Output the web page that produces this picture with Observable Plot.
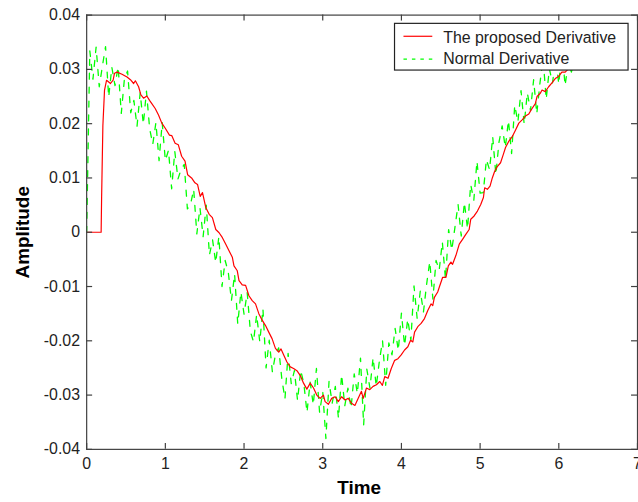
<!DOCTYPE html>
<html><head><meta charset="utf-8">
<script src="https://cdn.jsdelivr.net/npm/d3@7"></script>
<script src="https://cdn.jsdelivr.net/npm/@observablehq/plot@0.6"></script>
<style>
html,body{margin:0;padding:0;overflow:hidden;background:#fff;}
#chart{width:638px;height:502px;overflow:hidden;position:relative;}
</style></head><body><div id="chart"></div>
<script>
const xTicks = [0,1,2,3,4,5,6,7];
const xTickLabels = ["0","1","2","3","4","5","6","7"];
const yTicks = [-0.04,-0.03,-0.02,-0.01,0,0.01,0.02,0.03,0.04];
const yTickLabels = ["-0.04","-0.03","-0.02","-0.01","0","0.01","0.02","0.03","0.04"];
const xLabel = "Time";
const yLabel = "Amplitude";
const legendLabels = ["The proposed Derivative","Normal Derivative"];

const redT = [0,0.184,0.19,0.206,0.227,0.253,0.303,0.336,0.354,0.386,0.449,0.513,0.556,0.597,0.619,0.660,0.689,0.723,0.765,0.799,0.828,0.871,0.913,0.955,0.997,
1.052,1.081,1.124,1.165,1.207,1.250,1.283,1.333,1.376,
1.409,1.443,1.472,1.515,1.557,1.598,1.641,1.683,1.725,1.768,1.809,1.851,1.872,1.914,1.936,1.977,
2.020,2.062,2.104,2.146,2.188,2.230,2.273,2.314,2.356,2.399,2.441,2.470,2.504,2.545,2.588,2.630,2.672,2.715,2.756,2.798,
2.841,2.883,2.924,2.967,3.009,3.030,3.072,3.114,3.157,3.198,3.240,3.283,3.324,3.366,3.409,3.451,3.492,3.514,3.556,3.598,3.640,3.682,3.725,3.758,3.788,3.830,3.871,3.914,3.956,
3.997,4.040,4.082,4.116,4.145,4.167,4.208,4.250,4.293,4.335,4.376,4.398,4.419,4.461,4.482,4.524,4.566,4.596,4.629,4.650,4.692,4.735,4.777,4.818,4.861,4.881,4.924,4.966,5.008,5.042,5.058,5.092,5.126,5.155,5.184,5.218,
5.260,5.294,5.323,5.366,5.408,5.449,5.492,5.534,5.576,5.619,5.660,5.702,5.723,5.765,5.787,5.828,5.871,5.913,5.955,5.997,6.039,6.081,6.128,6.178,6.229];
const redV = [0,0,0.0064,0.0196,0.0262,0.0280,0.0274,0.0280,0.0293,0.0295,0.0291,0.0286,0.0281,0.0274,0.0279,0.0268,0.0253,0.0247,0.0251,0.0243,0.0237,0.0228,0.0216,0.0201,0.0192,
0.0179,0.0178,0.0164,0.0161,0.0140,0.0131,0.0106,0.0100,0.0091,
0.0088,0.0066,0.0073,0.0045,0.0033,0.0027,0.0005,-0.0001,-0.0010,-0.0022,-0.0034,-0.0046,-0.0062,-0.0071,-0.0089,-0.0097,
-0.0098,-0.0117,-0.0126,-0.0132,-0.0150,-0.0162,-0.0172,-0.0184,-0.0196,-0.0214,-0.0221,-0.0215,-0.0226,-0.0239,-0.0248,-0.0251,-0.0255,-0.0264,-0.0278,-0.0289,
-0.0278,-0.0287,-0.0300,-0.0306,-0.0300,-0.0312,-0.0317,-0.0306,-0.0303,-0.0312,-0.0303,-0.0309,-0.0306,-0.0315,-0.0319,-0.0306,-0.0293,-0.0306,-0.0287,-0.0290,-0.0284,-0.0281,-0.0275,-0.0282,-0.0266,-0.0269,-0.0251,-0.0236,-0.0233,
-0.0226,-0.0217,-0.0211,-0.0199,-0.0202,-0.0184,-0.0174,-0.0168,-0.0159,-0.0144,-0.0132,-0.0135,-0.0120,-0.0110,-0.0101,-0.0083,-0.0083,-0.0062,-0.0055,-0.0059,-0.0043,-0.0022,-0.0013,-0.0004,0.0005,0.0024,0.0030,0.0039,0.0051,0.0064,0.0082,0.0079,0.0085,0.0100,0.0112,0.0121,
0.0128,0.0143,0.0156,0.0168,0.0176,0.0188,0.0201,0.0207,0.0214,0.0218,0.0228,0.0237,0.0250,0.0256,0.0262,0.0259,0.0268,0.0275,0.0283,0.0287,0.0295,0.0295,0.0302,0.0306,0.0309];

const greenT = [0,0.04,0.08,0.12,0.16,0.20,0.24,0.28,0.32,0.36,
0.40,0.44,0.48,0.52,0.56,0.60,0.64,0.68,0.72,0.76,
0.80,0.84,0.88,0.92,0.96,1.00,1.04,1.08,1.12,1.16,
1.20,1.24,1.28,1.32,1.36,1.40,1.44,1.48,1.52,1.56,
1.60,1.64,1.68,1.72,1.76,1.80,1.84,1.88,1.92,1.96,
2.00,2.04,2.08,2.12,2.16,2.20,2.24,2.28,2.32,2.36,
2.40,2.44,2.48,2.52,2.56,2.60,2.64,2.68,2.72,2.76,
2.80,2.84,2.88,2.92,2.96,3.00,3.04,3.08,3.12,3.16,
3.20,3.24,3.28,3.32,3.36,3.40,3.44,3.48,3.52,3.56,
3.60,3.64,3.68,3.72,3.76,3.80,3.84,3.88,3.92,3.96,
4.00,4.04,4.08,4.12,4.16,4.20,4.24,4.28,4.32,4.36,
4.40,4.44,4.48,4.52,4.56,4.60,4.64,4.68,4.72,4.76,
4.80,4.84,4.88,4.92,4.96,5.00,5.04,5.08,5.12,5.16,
5.20,5.24,5.28,5.32,5.36,5.40,5.44,5.48,5.52,5.56,
5.60,5.64,5.68,5.72,5.76,5.80,5.84,5.88,5.92,5.96,
6.00,6.04,6.08,6.12,6.16,6.20];
const greenV = [0,0.0334,0.0282,0.0341,0.0268,0.0306,0.0342,0.0249,0.0304,0.0270,
0.0305,0.0219,0.0283,0.0297,0.0220,0.0243,0.0195,0.0257,0.0199,0.0260,
0.0191,0.0162,0.0202,0.0132,0.0202,0.0132,0.0151,0.0080,0.0149,0.0098,
0.0116,0.0125,0.0043,0.0051,0.0079,-0.0003,0.0045,-0.0008,0.0050,-0.0042,
-0.0014,-0.0056,-0.0008,-0.0100,-0.0052,-0.0074,-0.0126,-0.0077,-0.0169,-0.0110,
-0.0151,-0.0111,-0.0182,-0.0202,-0.0152,-0.0202,-0.0141,-0.0250,-0.0199,-0.0257,
-0.0225,-0.0213,-0.0270,-0.0307,-0.0223,-0.0279,-0.0255,-0.0310,-0.0254,-0.0279,
-0.0332,-0.0276,-0.0318,-0.0251,-0.0332,-0.0294,-0.0380,-0.0275,-0.0315,-0.0284,
-0.0343,-0.0262,-0.0320,-0.0287,-0.0324,-0.0261,-0.0297,-0.0232,-0.0355,-0.0252,
-0.0287,-0.0231,-0.0284,-0.0237,-0.0200,-0.0282,-0.0204,-0.0226,-0.0177,-0.0218,
-0.0149,-0.0209,-0.0160,-0.0199,-0.0099,-0.0159,-0.0108,-0.0147,-0.0096,-0.0054,
-0.0123,-0.0052,-0.0070,-0.0018,-0.0087,0.0005,-0.0033,0.0009,0.0051,-0.0007,
0.0055,0.0006,0.0088,0.0059,0.0131,0.0072,0.0073,0.0134,0.0115,0.0176,
0.0106,0.0166,0.0196,0.0156,0.0206,0.0145,0.0234,0.0203,0.0261,0.0199,
0.0257,0.0224,0.0281,0.0218,0.0274,0.0320,0.0245,0.0301,0.0275,0.0320,
0.0273,0.0337,0.0270,0.0313,0.0295,0.0320];

const red = redT.map((t,i)=>({t, v: redV[i]}));
const green = greenT.map((t,i)=>({t, v: greenV[i]}));

const W = 642, H = 502, mL = 86.7, mR = 1, mT = 14.7, mB = 50.3;
const plotW = W - mL - mR, plotH = H - mT - mB;
const font = "'Liberation Sans', Arial, Helvetica, sans-serif";
const axisColor = "#404040";
const textColor = "#222";

const chart = Plot.plot({
  width: W, height: H,
  marginLeft: mL, marginRight: mR, marginTop: mT, marginBottom: mB,
  style: {fontFamily: font, background: "white", overflow: "visible"},
  x: {domain: [0,7], axis: null, label: null},
  y: {domain: [-0.04,0.04], axis: null, label: null},
  marks: [
    Plot.line(green, {x: "t", y: "v", stroke: "#00ff00", strokeWidth: 1.3, strokeDasharray: "6,8"}),
    Plot.line(red, {x: "t", y: "v", stroke: "#ff0000", strokeWidth: 1.2}),
    Plot.frame({stroke: axisColor, strokeWidth: 1.2}),
    Plot.ruleX(xTicks, {x: d=>d, insetTop: plotH - 6, stroke: axisColor, strokeWidth: 1.2}),
    Plot.ruleX(xTicks, {x: d=>d, insetBottom: plotH - 6, stroke: axisColor, strokeWidth: 1.2}),
    Plot.ruleY(yTicks, {y: d=>d, insetRight: plotW - 6, stroke: axisColor, strokeWidth: 1.2}),
    Plot.ruleY(yTicks, {y: d=>d, insetLeft: plotW - 6, stroke: axisColor, strokeWidth: 1.2}),
    Plot.axisX(xTicks, {anchor: "bottom", tickSize: 0, tickPadding: 8.3, tickFormat: d => xTickLabels[xTicks.indexOf(d)], fontSize: 16, fill: textColor, label: null}),
    Plot.axisY(yTicks, {anchor: "left", tickSize: 0, tickPadding: 6.7, tickFormat: d => yTickLabels[yTicks.indexOf(d)], fontSize: 16, fill: textColor, label: null}),
    Plot.text([xLabel], {frameAnchor: "bottom", dy: 39, dx: -3, textAnchor: "middle", lineAnchor: "middle", text: d=>d, fontSize: 19, fontWeight: "bold", fill: "#000"}),
    Plot.text([yLabel], {frameAnchor: "left", dx: -64, rotate: -90, textAnchor: "middle", lineAnchor: "middle", text: d=>d, fontSize: 19, fontWeight: "bold", fill: "#000"})
  ]
});

const svg = d3.select(chart);
const lg = svg.append("g").attr("font-family", font).attr("font-size", 16).attr("fill", textColor).attr("text-anchor", "start");
lg.append("rect").attr("x", 397).attr("y", 23.5).attr("width", 235).attr("height", 47)
  .attr("fill", "white").attr("stroke", "#222").attr("stroke-width", 1.2);
lg.append("line").attr("x1", 406).attr("x2", 435).attr("y1", 36.5).attr("y2", 36.5)
  .attr("stroke", "#ff0000").attr("stroke-width", 1.2);
lg.append("line").attr("x1", 406).attr("x2", 435).attr("y1", 59.5).attr("y2", 59.5)
  .attr("stroke", "#00ff00").attr("stroke-width", 1.2).attr("stroke-dasharray", "3.5,5");
lg.append("text").attr("x", 446).attr("y", 43).attr("text-anchor", "start").text(legendLabels[0]);
lg.append("text").attr("x", 446).attr("y", 64).attr("text-anchor", "start").text(legendLabels[1]);

document.getElementById("chart").appendChild(chart);
</script>
</body></html>
